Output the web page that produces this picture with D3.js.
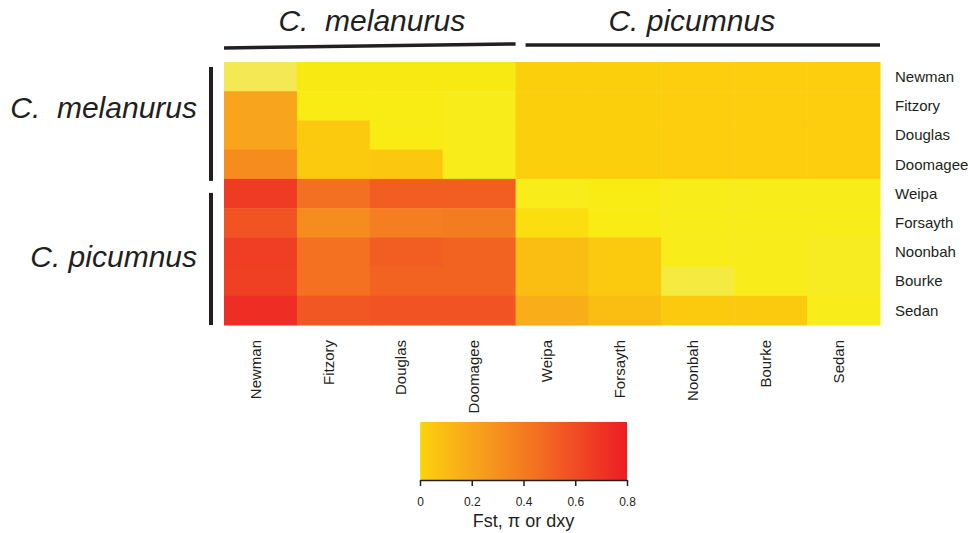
<!DOCTYPE html>
<html>
<head>
<meta charset="utf-8">
<script src="https://cdn.jsdelivr.net/npm/d3@7"></script>
<style>
  html, body { margin: 0; padding: 0; background: #fff; }
  #main { width: 970px; height: 533px; }
  text { font-family: "Liberation Sans", Arial, sans-serif; fill: #231f20; }
</style>
</head>
<body>
<div id="main"></div>
<script>
// sites, melanurus first then picumnus
const sites = ["Newman", "Fitzory", "Douglas", "Doomagee", "Weipa", "Forsayth", "Noonbah", "Bourke", "Sedan"];
const groups = [
  { name: "C.  melanurus", from: "Newman", to: "Doomagee" },
  { name: "C. picumnus", from: "Weipa", to: "Sedan" }
];

// matrix values, row by row (rows = sites, cols = sites)
const rowNewman   = [-0.19, -0.09, -0.09, -0.09, 0.005, 0.005, 0.01, 0.01, 0.01];
const rowFitzory  = [0.20, -0.10, -0.10, -0.11, 0.005, 0.005, 0.01, 0.01, 0.01];
const rowDouglas  = [0.20, 0.03, -0.10, -0.11, 0.005, 0.005, 0.01, 0.01, 0.01];
const rowDoomagee = [0.32, 0.03, 0.04, -0.11, 0.005, 0.005, 0.01, 0.01, 0.01];
const rowWeipa    = [0.67, 0.45, 0.52, 0.52, -0.11, -0.10, -0.11, -0.11, -0.11];
const rowForsayth = [0.57, 0.32, 0.38, 0.39, -0.05, -0.10, -0.11, -0.11, -0.11];
const rowNoonbah  = [0.66, 0.44, 0.52, 0.50, 0.08, 0.03, -0.11, -0.11, -0.12];
const rowBourke   = [0.65, 0.44, 0.50, 0.50, 0.08, 0.03, -0.16, -0.11, -0.12];
const rowSedan    = [0.73, 0.55, 0.57, 0.57, 0.16, 0.08, 0.03, 0.03, -0.11];
const rows = [rowNewman, rowFitzory, rowDouglas, rowDoomagee, rowWeipa, rowForsayth, rowNoonbah, rowBourke, rowSedan];

const legendTicks = [0, 0.2, 0.4, 0.6, 0.8];
const legendTitle = "Fst, \u03c0 or dxy";

const elm = d3.select("#main");
const svg = elm.append("svg")
  .attr("width", 970)
  .attr("height", 533);

const color = d3.scaleLinear()
  .domain([-0.2, -0.1, 0, 0.2, 0.4, 0.6, 0.8])
  .range(["#f3e85c", "#f8ec14", "#fcd00c", "#f8a41c", "#f47a20", "#f04c24", "#ed1c24"])
  .clamp(true);

const x = d3.scaleBand().domain(sites).range([224, 880]);
const y = d3.scaleBand().domain(sites).range([62, 325]);

const cells = [];
rows.forEach((r, i) => r.forEach((v, j) => cells.push({ row: sites[i], col: sites[j], v: v })));

svg.append("g")
  .selectAll("rect")
  .data(cells)
  .enter()
  .append("rect")
  .attr("x", d => x(d.col))
  .attr("y", d => y(d.row))
  .attr("width", x.bandwidth() + 0.5)
  .attr("height", y.bandwidth() + 0.5)
  .attr("fill", d => color(d.v));

// row labels
svg.append("g")
  .selectAll("text")
  .data(sites)
  .enter()
  .append("text")
  .attr("x", 895)
  .attr("y", d => y(d) + y.bandwidth() / 2)
  .attr("dy", "0.35em")
  .attr("font-size", 15)
  .text(d => d);

// column labels (sit a bit left of the cell centre)
svg.append("g")
  .selectAll("text")
  .data(sites)
  .enter()
  .append("text")
  .attr("transform", d => `translate(${x(d) + x.bandwidth() / 2 - 5}, 340) rotate(-90)`)
  .attr("dy", "0.35em")
  .attr("text-anchor", "end")
  .attr("font-size", 15)
  .text(d => d);

// group headers, top and left
groups.forEach((g, i) => {
  let x0 = x(g.from);
  let x1 = x(g.to) + x.bandwidth();
  let hx0 = i === 0 ? x0 : x0 + 10;
  svg.append("line")
    .attr("x1", hx0).attr("x2", x1)
    .attr("y1", i === 0 ? 48 : 45).attr("y2", i === 0 ? 44 : 45)
    .attr("stroke", "#231f20")
    .attr("stroke-width", 3.5);
  svg.append("text")
    .attr("x", (x0 + x1) / 2 + (i === 0 ? 2 : -6))
    .attr("y", 31)
    .attr("text-anchor", "middle")
    .attr("font-size", 30)
    .attr("font-style", "italic")
    .style("white-space", "pre")
    .text(g.name);

  let y0 = y(g.from);
  let y1 = y(g.to) + y.bandwidth();
  svg.append("line")
    .attr("x1", 211).attr("x2", 211)
    .attr("y1", i === 0 ? y0 + 5 : y0 + 14).attr("y2", i === 0 ? y1 + 2 : y1)
    .attr("stroke", "#231f20")
    .attr("stroke-width", 4);
  svg.append("text")
    .attr("x", 197)
    .attr("y", i === 0 ? 118 : 267)
    .attr("text-anchor", "end")
    .attr("font-size", 30)
    .attr("font-style", "italic")
    .style("white-space", "pre")
    .text(g.name);
});

// colour bar
const lx = d3.scaleLinear().domain([0, 0.8]).range([420, 627]);

const grad = svg.append("defs")
  .append("linearGradient")
  .attr("id", "bar");
grad.append("stop").attr("offset", "0%").attr("stop-color", color(-0.1));
grad.selectAll("stop.s")
  .data(d3.range(0, 0.801, 0.05))
  .enter()
  .append("stop")
  .attr("class", "s")
  .attr("offset", d => `${1 + 99 * d / 0.8}%`)
  .attr("stop-color", d => color(d));

svg.append("rect")
  .attr("x", lx(0))
  .attr("y", 422)
  .attr("width", lx(0.8) - lx(0))
  .attr("height", 58)
  .attr("fill", "url(#bar)");

const axis = svg.append("g")
  .attr("transform", "translate(0, 480)")
  .call(d3.axisBottom(lx)
    .tickValues(legendTicks)
    .tickSize(6)
    .tickSizeOuter(0)
    .tickPadding(11)
    .tickFormat(d => d === 0 ? "0" : d3.format(".1f")(d)));
axis.select(".domain").attr("stroke", "#231f20").attr("stroke-width", 1.5);
axis.selectAll(".tick line").attr("stroke", "#231f20").attr("stroke-width", 1.5);
axis.selectAll(".tick text")
  .attr("font-size", 12)
  .attr("font-family", "\"Liberation Sans\", Arial, sans-serif")
  .attr("fill", "#231f20");

svg.append("text")
  .attr("x", (lx(0) + lx(0.8)) / 2)
  .attr("y", 527)
  .attr("text-anchor", "middle")
  .attr("font-size", 18)
  .text(legendTitle);
</script>
</body>
</html>
